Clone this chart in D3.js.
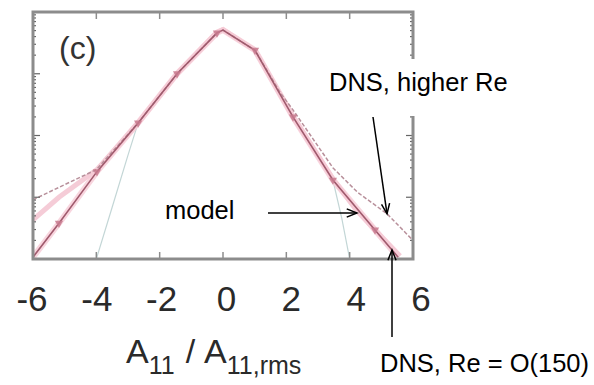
<!DOCTYPE html>
<html>
<head>
<meta charset="utf-8">
<script src="https://cdn.jsdelivr.net/npm/d3@7"></script>
<style>
  body { margin: 0; background: #fff; }
  svg { display: block; font-family: "Liberation Sans", Arial, sans-serif; }
</style>
</head>
<body>
<div id="vis-container"></div>
<script>
// ------------------------------ DATA ------------------------------ //
const xTicks = [-6, -4, -2, 0, 2, 4, 6];

// DNS, Re = O(150): solid line with markers
const dnsX = [-6.0, -5.18, -3.98, -2.68, -1.45, -0.19, 0, 1.01, 2.21, 3.47, 4.80, 5.53];
const dnsP = [1.07e-4, 3.8e-4, 2.6e-3, 0.016, 0.10, 0.46, 0.51, 0.24, 0.020, 1.9e-3, 2.95e-4, 1.07e-4];
const markerIdx = [1, 2, 3, 4, 5, 7, 8, 9, 10];

// DNS, higher Re: dashed line
const highX = [-6.0, -5.0, -4.0, -2.68, -1.45, -0.19, 0, 1.01, 1.8, 2.21, 3.47, 4.25, 5.18, 6.0];
const highP = [9.1e-4, 1.6e-3, 2.8e-3, 0.016, 0.10, 0.46, 0.51, 0.24, 0.050, 0.026, 3.0e-3, 1.2e-3, 5.4e-4, 2.0e-4];

// model: pink band
const modelX = [-6.0, -5.18, -3.98, -2.68, -1.45, -0.19, 0, 1.01, 2.21, 3.47, 4.23, 5.59];
const modelP = [4.3e-4, 1.0e-3, 2.8e-3, 0.016, 0.10, 0.47, 0.52, 0.24, 0.020, 2.0e-3, 6.0e-4, 1.12e-4];

// Gaussian reference, visible only in the tails
const gaussLeftX = [-4.0, -3.5, -3.0, -2.68];
const gaussLeftP = [1.0e-4, 6.9e-4, 4.8e-3, 0.016];
const gaussRightX = [3.2, 3.47, 3.75, 4.0];
const gaussRightP = [3.2e-3, 1.9e-3, 4.6e-4, 1.0e-4];

// ------------------------------ SET UP ------------------------------ //
const width = 594;
const height = 385;
const plot = { left: 33, right: 413, top: 12, bottom: 259 };

const svg = d3.select("#vis-container")
  .append("svg")
  .attr("width", width)
  .attr("height", height);

const x = d3.scaleLinear().domain([-6, 6]).range([plot.left, plot.right]);
const y = d3.scaleLog().domain([1e-4, 1]).range([plot.bottom, plot.top]);
// the tick labels sit on a slightly wider spacing than the ticks
const xLabel = d3.scaleLinear().domain([-6, 6]).range([32, 421]);

const zip = (xs, ps) => xs.map((v, i) => [v, ps[i]]);
const line = d3.line().x(d => x(d[0])).y(d => y(d[1]));

svg.append("defs").append("clipPath").attr("id", "clip")
  .append("rect")
  .attr("x", plot.left).attr("y", plot.top)
  .attr("width", plot.right - plot.left).attr("height", plot.bottom - plot.top);

const curves = svg.append("g").attr("clip-path", "url(#clip)");

// Gaussian tails
[zip(gaussLeftX, gaussLeftP), zip(gaussRightX, gaussRightP)].forEach(g => {
  curves.append("path")
    .attr("d", line(g))
    .attr("fill", "none")
    .attr("stroke", "#c3d6d6")
    .attr("stroke-width", 1.2);
});

// model band
curves.append("path")
  .attr("d", line(zip(modelX, modelP)))
  .attr("fill", "none")
  .attr("stroke", "#f3bfcd")
  .attr("stroke-opacity", 0.8)
  .attr("stroke-width", 5);

// pink glow round the DNS line
curves.append("path")
  .attr("d", line(zip(dnsX, dnsP)))
  .attr("fill", "none")
  .attr("stroke", "#f6cbd6")
  .attr("stroke-opacity", 0.8)
  .attr("stroke-width", 6);

// higher Re dashed
curves.append("path")
  .attr("d", line(zip(highX, highP)))
  .attr("fill", "none")
  .attr("stroke", "#b8909b")
  .attr("stroke-width", 1.5)
  .attr("stroke-dasharray", "4,2");

// DNS Re = O(150)
curves.append("path")
  .attr("d", line(zip(dnsX, dnsP)))
  .attr("fill", "none")
  .attr("stroke", "#a05a6d")
  .attr("stroke-width", 1.6);

curves.selectAll(".marker")
  .data(markerIdx.map(i => [dnsX[i], dnsP[i]]))
  .enter()
  .append("path")
  .attr("class", "marker")
  .attr("d", d3.symbol(d3.symbolTriangle, 30))
  .attr("transform", d => `translate(${x(d[0])},${y(d[1])}) rotate(180)`)
  .attr("fill", "#c77a8e")
  .attr("fill-opacity", 0.85);

// ------------------------------ FRAME ------------------------------ //
const frameColor = "#8c8c8c";
const frame = svg.append("g");

// x ticks (top and bottom, pointing inward)
[[plot.bottom, -1], [plot.top, 1]].forEach(([y0, dir]) => {
  frame.selectAll(null)
    .data(xTicks.slice(1, -1))
    .enter()
    .append("line")
    .attr("x1", d => x(d)).attr("x2", d => x(d))
    .attr("y1", y0).attr("y2", y0 + dir * 7)
    .attr("stroke", frameColor).attr("stroke-width", 1.5);
});

// log y ticks, left and right
const yTicks = y.ticks();
[[plot.left, 1], [plot.right, -1]].forEach(([x0, dir]) => {
  frame.selectAll(null)
    .data(yTicks)
    .enter()
    .append("line")
    .attr("x1", x0)
    .attr("x2", d => x0 + dir * (Math.abs(Math.log10(d) - Math.round(Math.log10(d))) < 1e-6 ? 7 : 3))
    .attr("y1", d => y(d)).attr("y2", d => y(d))
    .attr("stroke", "#666").attr("stroke-width", 1.2);
});

frame.append("rect")
  .attr("x", plot.left).attr("y", plot.top)
  .attr("width", plot.right - plot.left)
  .attr("height", plot.bottom - plot.top)
  .attr("fill", "none")
  .attr("stroke", frameColor)
  .attr("stroke-width", 3);

// x tick labels
svg.append("g")
  .selectAll("text")
  .data(xTicks)
  .enter()
  .append("text")
  .attr("x", d => xLabel(d))
  .attr("y", 311)
  .attr("text-anchor", "middle")
  .attr("font-size", 35)
  .attr("fill", "#2a2a2a")
  .text(d => d);

// x axis title with subscripts
const title = svg.append("text")
  .attr("x", 126)
  .attr("y", 363)
  .attr("font-size", 34)
  .attr("fill", "#2a2a2a");
title.append("tspan").text("A");
title.append("tspan").attr("font-size", 25).attr("dy", 11).text("11");
title.append("tspan").attr("dy", -11).attr("dx", 11).text("/");
title.append("tspan").attr("dx", 9).text("A");
title.append("tspan").attr("font-size", 25).attr("dy", 11).text("11,rms");

// panel label
svg.append("text")
  .attr("x", 59).attr("y", 59)
  .attr("font-size", 32)
  .attr("fill", "#333")
  .text("(c)");

// ------------------------------ ANNOTATIONS ------------------------------ //
const arrow = (x1, y1, x2, y2) => {
  const a = Math.atan2(y2 - y1, x2 - x1);
  const len = 11, spread = 0.38;
  svg.append("line")
    .attr("x1", x1).attr("y1", y1).attr("x2", x2).attr("y2", y2)
    .attr("stroke", "#000").attr("stroke-width", 1.5);
  svg.append("path")
    .attr("d", `M${x2 - len * Math.cos(a - spread)},${y2 - len * Math.sin(a - spread)}L${x2},${y2}L${x2 - len * Math.cos(a + spread)},${y2 - len * Math.sin(a + spread)}`)
    .attr("fill", "none").attr("stroke", "#000").attr("stroke-width", 1.5);
};

// white box behind the "higher Re" label (hides part of the right frame)
svg.append("rect")
  .attr("x", 322).attr("y", 59).attr("width", 195).attr("height", 57)
  .attr("fill", "#fff");

const labelSize = 25.5;

svg.append("text")
  .attr("x", 329).attr("y", 91)
  .attr("font-size", labelSize)
  .text("DNS, higher Re");

svg.append("text")
  .attr("x", 165).attr("y", 219)
  .attr("font-size", labelSize)
  .text("model");

svg.append("text")
  .attr("x", 380).attr("y", 372)
  .attr("font-size", labelSize)
  .text("DNS, Re = O(150)");

arrow(268, 213, x(4.23), 213);
arrow(373, 117, x(5.18), y(5.4e-4));
arrow(392, 337, 392, 250);
</script>
</body>
</html>
